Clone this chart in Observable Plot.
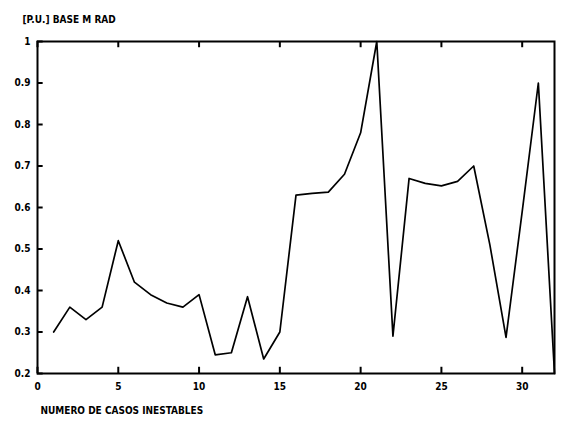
<!DOCTYPE html>
<html>
<head>
<meta charset="utf-8">
<script src="https://cdn.jsdelivr.net/npm/d3@7"></script>
<script src="https://cdn.jsdelivr.net/npm/@observablehq/plot@0.6"></script>
<style>
  html, body { margin: 0; padding: 0; background: #fff; }
</style>
</head>
<body>
<div id="chart"></div>
<script>
const casos = [1,2,3,4,5,6,7,8,9,10,11,12,13,14,15,16,17,18,19,20,21,22,23,24,25,26,27,28,29,30,31,32];
const valores = [0.30,0.36,0.33,0.36,0.52,0.42,0.39,0.37,0.36,0.39,0.245,0.25,0.385,0.235,0.30,0.63,0.634,0.637,0.68,0.78,1.0,0.29,0.67,0.658,0.652,0.663,0.70,0.51,0.287,0.59,0.90,0.20];
const xTicks = [0,5,10,15,20,25,30];
const yTicks = [0.2,0.3,0.4,0.5,0.6,0.7,0.8,0.9,1];
const yTitle = "[P.U.] BASE M RAD";
const xTitle = "NUMERO DE CASOS INESTABLES";

const data = casos.map((c, i) => ({caso: c, valor: valores[i]}));
const font = "'Liberation Sans Narrow', 'DejaVu Sans Condensed', 'Liberation Sans', sans-serif";
const fmt = d => String(+d.toFixed(1));
const stubX = xTicks.map(t => ({t, lo: 0.2, hi: 0.215, top: 1, topIn: 0.985}));
const stubY = yTicks.map(t => ({t, a: 0, b: 0.35}));

const chart = Plot.plot({
  width: 562,
  height: 432,
  marginLeft: 37,
  marginRight: 8,
  marginTop: 41,
  marginBottom: 59,
  style: {fontFamily: font, fontSize: "10px", fontWeight: "bold", color: "#000", background: "#fff"},
  x: {domain: [0, 32]},
  y: {domain: [0.2, 1]},
  marks: [
    Plot.frame({stroke: "#000", strokeWidth: 2}),
    Plot.axisX({anchor: "bottom", ticks: xTicks, tickSize: 0, tickPadding: 9, label: null}),
    Plot.axisY({anchor: "left", ticks: yTicks, tickSize: 0, tickPadding: 7, tickFormat: fmt, label: null}),
    // inward tick stubs
    Plot.ruleX(stubX, {x: "t", y1: "lo", y2: "hi", stroke: "#000", strokeWidth: 2}),
    Plot.ruleX(stubX, {x: "t", y1: "top", y2: "topIn", stroke: "#000", strokeWidth: 2}),
    Plot.ruleY(stubY, {y: "t", x1: "a", x2: "b", stroke: "#000", strokeWidth: 2}),
    Plot.line(data, {x: "caso", y: "valor", stroke: "#000", strokeWidth: 1.7}),
    Plot.text([yTitle], {frameAnchor: "top-left", textAnchor: "start", dx: -15, dy: -26, fontSize: 10, fontWeight: "bold"}),
    Plot.text([xTitle], {frameAnchor: "bottom-left", textAnchor: "start", dx: 3, dy: 40, fontSize: 10, fontWeight: "bold"})
  ]
});
document.getElementById("chart").appendChild(chart);
</script>
</body>
</html>
